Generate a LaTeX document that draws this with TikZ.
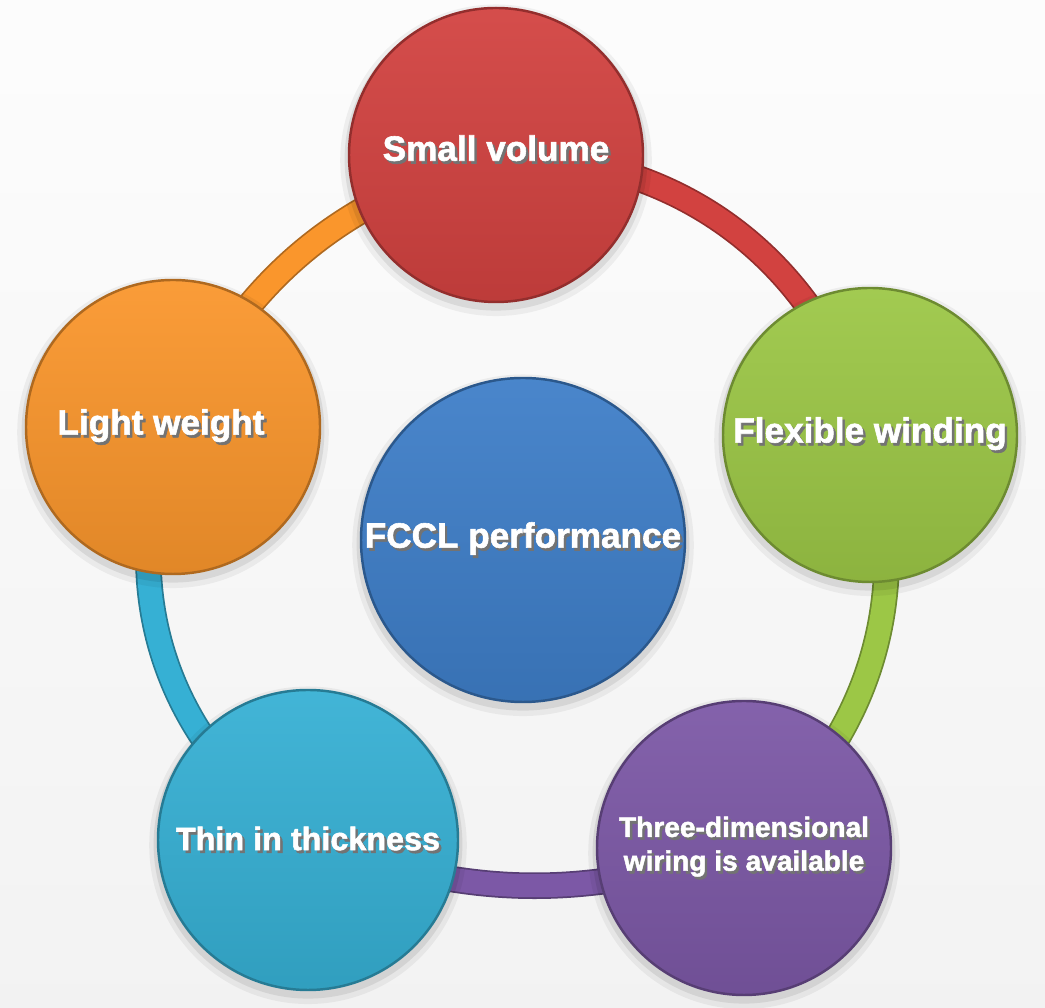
\documentclass[tikz,border=0pt]{standalone}
\usepackage{fontspec}
\setmainfont{Liberation Sans}[BoldFeatures={FakeBold=1.6}]

\definecolor{svred}{RGB}{210,66,64}
\definecolor{fwgreen}{RGB}{156,199,70}
\definecolor{twpurple}{RGB}{124,88,166}
\definecolor{ttcyan}{RGB}{54,176,212}
\definecolor{lworange}{RGB}{250,150,44}
\definecolor{fcblue}{RGB}{62,126,200}

\newcommand{\shadowed}[1]{\makebox[0pt][l]{\hspace{0.7pt}\raisebox{-0.8pt}{\textcolor{black!55}{#1}}}#1}

\pgfdeclarelayer{back}
\pgfdeclarelayer{ringlayer}
\pgfsetlayers{back,ringlayer,main}

\begin{document}
\begin{tikzpicture}[
  ball/.style={circle, inner sep=0pt, minimum size=2.94cm, align=center,
    draw=#1!70!black, line width=0.7pt,
    top color=#1!94!white, bottom color=#1!90!black,
    preaction={draw=black, draw opacity=0.05, line width=5pt, transform canvas={yshift=-1.5pt}},
    preaction={draw=black, draw opacity=0.08, line width=2.5pt, transform canvas={yshift=-1.2pt}},
    text=white, font=\bfseries\fontsize{10}{12}\selectfont},
  ring/.style={line width=0.5pt, draw=#1!70!black, double=#1, double distance=0.23cm}
]

% Canvas
\useasboundingbox (0,0) rectangle (10.45,10.08);
\begin{pgfonlayer}{back}
\shade[top color=black!1, bottom color=black!5] (0,0) rectangle (10.45,10.08);
\end{pgfonlayer}

% Outer circles
\node[ball=svred] (sv) at (4.96,8.53) {\raisebox{0.14cm}{\shadowed{Small volume}}};
\node[ball=fwgreen] (fw) at (8.70,5.73) {\shadowed{Flexible winding}};
\node[ball=twpurple, font=\bfseries\fontsize{8}{9.6}\selectfont] (tw) at (7.44,1.60)
  {\shadowed{Three-dimensional}\\\shadowed{wiring is available}};
\node[ball=ttcyan, minimum size=3.0cm, font=\bfseries\fontsize{9.2}{11}\selectfont] (tt) at (3.08,1.68) {\shadowed{Thin in thickness}};
\node[ball=lworange] (lw) at (1.73,5.81) {\shadowed{Light weight}\hspace{0.24cm}};

% Center circle
\node[ball=fcblue, minimum size=3.24cm] (fc) at (5.23,4.68) {\shadowed{FCCL performance}};

% Ring
\begin{pgfonlayer}{ringlayer}
\draw[ring=svred] (sv.center) to[bend left=37] (fw.center);
\draw[ring=fwgreen] (fw.center) to[bend left=32] (tw.center);
\draw[ring=twpurple] (tw.center) to[bend left=19] (tt.center);
\draw[ring=ttcyan] (tt.center) to[bend left=39] (lw.center);
\draw[ring=lworange] (lw.center) to[bend left=24] (sv.center);
\end{pgfonlayer}

\end{tikzpicture}
\end{document}
